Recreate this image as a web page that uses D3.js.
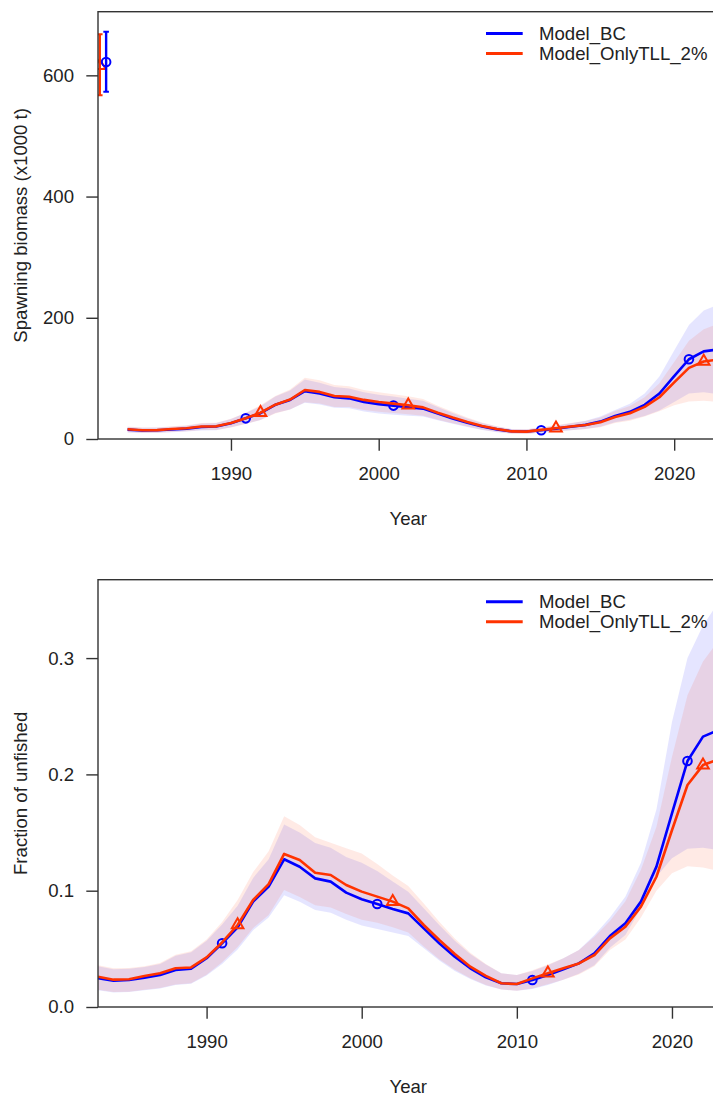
<!DOCTYPE html>
<html>
<head>
<meta charset="utf-8">
<script src="https://cdn.jsdelivr.net/npm/d3@7/dist/d3.min.js"></script>
<style>
  html, body { margin: 0; padding: 0; background: #fff; }
  svg { display: block; }
  text { font-family: "Liberation Sans", Arial, Helvetica, sans-serif; fill: #222; }
</style>
</head>
<body>
<svg id="chart" width="713" height="1097"></svg>
<script>
// ---- Data -------------------------------------------------------------
const years = d3.range(1983, 2024);
const modelNames = ["Model_BC", "Model_OnlyTLL_2%"];

// Spawning biomass (x1000 t)
const ssbBC = [15.4, 14.1, 14.4, 15.7, 17.1, 19.8, 20.5, 26.1, 34.1, 42.6,
  56.4, 64.4, 79.0, 75.0, 68.8, 67.1, 61.1, 57.6, 55.1, 52.4,
  50.1, 42.0, 34.0, 26.9, 20.7, 15.9, 12.7, 12.3, 14.4, 17.1,
  20.2, 23.3, 28.7, 37.9, 44.8, 56.4, 75.1, 103.6, 131.6, 144.6, 148.0];
const ssbBCLo = [10.8, 9.7, 10.0, 11.1, 12.2, 14.1, 14.5, 19.2, 25.2, 31.2,
  42.8, 48.8, 60.0, 57.0, 51.6, 50.7, 45.2, 42.2, 40.2, 38.3,
  37.2, 31.0, 25.0, 19.8, 14.9, 11.3, 8.9, 8.6, 10.3, 12.2,
  14.4, 16.6, 20.4, 27.8, 31.6, 37.8, 47.2, 61.0, 75.0, 77.0, 74.0];
const ssbBCHi = [20.0, 18.5, 18.8, 20.3, 22.0, 25.5, 26.5, 33.0, 43.0, 54.0,
  70.0, 80.0, 98.0, 93.0, 86.0, 83.5, 77.0, 73.0, 70.0, 66.5,
  63.0, 53.0, 43.0, 34.0, 26.5, 20.5, 16.5, 16.0, 18.5, 22.0,
  26.0, 30.0, 37.0, 48.0, 58.0, 75.0, 103.0, 146.0, 188.0, 212.0, 222.0];
const ssbTLL = [16.0, 14.5, 14.6, 16.4, 17.8, 20.5, 20.9, 26.3, 34.1, 43.4,
  56.6, 65.0, 80.9, 77.7, 71.0, 69.8, 64.5, 61.0, 58.4, 55.7,
  52.2, 43.4, 35.4, 28.0, 21.3, 16.4, 12.5, 12.2, 15.1, 17.8,
  20.5, 23.1, 27.5, 36.3, 42.4, 53.1, 68.9, 93.5, 117.4, 127.9, 131.0];
const ssbTLLLo = [11.2, 10.1, 10.2, 11.6, 12.8, 14.7, 14.8, 19.1, 24.7, 31.3,
  42.2, 48.5, 60.8, 58.4, 53.0, 52.6, 48.0, 45.0, 42.8, 40.9,
  38.4, 31.8, 25.8, 20.5, 15.3, 11.8, 8.7, 8.4, 10.7, 12.6,
  14.5, 16.4, 19.5, 26.6, 30.3, 37.2, 45.8, 55.5, 62.0, 63.0, 61.0];
const ssbTLLHi = [20.8, 19.0, 19.1, 21.2, 22.8, 26.3, 27.0, 33.5, 43.5, 55.5,
  71.0, 81.5, 101.0, 97.0, 89.0, 87.0, 81.0, 77.0, 74.0, 70.5,
  66.0, 55.0, 45.0, 35.5, 27.3, 21.0, 16.3, 16.0, 19.5, 23.0,
  26.5, 29.8, 35.5, 46.0, 54.5, 69.0, 92.0, 127.0, 162.0, 181.0, 190.0];

// Unfished (equilibrium) spawning biomass with interval
const equilYear = [1981.55, 1981.12];
const equilSSB = [622, 616];
const equilLo = [573, 567];
const equilHi = [672, 668];

// Fraction of unfished
const fracBC = [0.0247, 0.0226, 0.0232, 0.0252, 0.0275, 0.0318, 0.0330, 0.0419, 0.0548, 0.0685,
  0.0906, 0.1035, 0.1270, 0.1206, 0.1106, 0.1078, 0.0983, 0.0926, 0.0886, 0.0843,
  0.0805, 0.0676, 0.0547, 0.0433, 0.0333, 0.0255, 0.0204, 0.0198, 0.0232, 0.0275,
  0.0324, 0.0375, 0.0461, 0.0610, 0.0720, 0.0906, 0.1207, 0.1665, 0.2115, 0.2325, 0.2380];
const fracBCLo = [0.0145, 0.0125, 0.0130, 0.0145, 0.0160, 0.0190, 0.0200, 0.0270, 0.0370, 0.0495,
  0.0660, 0.0770, 0.0960, 0.0905, 0.0835, 0.0810, 0.0750, 0.0700, 0.0670, 0.0640,
  0.0610, 0.0505, 0.0400, 0.0310, 0.0240, 0.0185, 0.0150, 0.0140, 0.0155, 0.0190,
  0.0235, 0.0285, 0.0360, 0.0510, 0.0620, 0.0850, 0.1120, 0.1280, 0.1360, 0.1370, 0.1350];
const fracBCHi = [0.0350, 0.0325, 0.0328, 0.0345, 0.0370, 0.0440, 0.0470, 0.0570, 0.0710, 0.0870,
  0.1110, 0.1270, 0.1570, 0.1500, 0.1410, 0.1370, 0.1290, 0.1240, 0.1170, 0.1080,
  0.0990, 0.0850, 0.0705, 0.0570, 0.0455, 0.0365, 0.0290, 0.0275, 0.0310, 0.0360,
  0.0420, 0.0490, 0.0620, 0.0770, 0.0950, 0.1240, 0.1700, 0.2450, 0.3000, 0.3280, 0.3480];
const fracTLL = [0.0260, 0.0235, 0.0238, 0.0267, 0.0290, 0.0333, 0.0340, 0.0427, 0.0555, 0.0705,
  0.0920, 0.1057, 0.1316, 0.1264, 0.1155, 0.1135, 0.1049, 0.0992, 0.0949, 0.0906,
  0.0848, 0.0705, 0.0576, 0.0456, 0.0347, 0.0267, 0.0204, 0.0198, 0.0246, 0.0290,
  0.0333, 0.0375, 0.0447, 0.0590, 0.0690, 0.0863, 0.1120, 0.1520, 0.1909, 0.2080, 0.2130];
const fracTLLLo = [0.0148, 0.0128, 0.0132, 0.0148, 0.0163, 0.0193, 0.0205, 0.0278, 0.0385, 0.0515,
  0.0680, 0.0790, 0.1005, 0.0945, 0.0875, 0.0855, 0.0800, 0.0750, 0.0725, 0.0685,
  0.0640, 0.0520, 0.0410, 0.0320, 0.0247, 0.0190, 0.0150, 0.0140, 0.0160, 0.0195,
  0.0235, 0.0280, 0.0350, 0.0490, 0.0580, 0.0770, 0.1000, 0.1150, 0.1210, 0.1200, 0.1170];
const fracTLLHi = [0.0360, 0.0333, 0.0335, 0.0350, 0.0378, 0.0450, 0.0480, 0.0580, 0.0730, 0.0920,
  0.1160, 0.1340, 0.1640, 0.1565, 0.1460, 0.1413, 0.1364, 0.1320, 0.1230, 0.1130,
  0.1040, 0.0890, 0.0734, 0.0590, 0.0467, 0.0370, 0.0290, 0.0275, 0.0315, 0.0365,
  0.0420, 0.0490, 0.0605, 0.0740, 0.0910, 0.1180, 0.1550, 0.2150, 0.2680, 0.2970, 0.3150];

// Years carrying a marker symbol for each model
const markYearsBC = [1991, 2001, 2011, 2021];
const markYearsTLL = [1992, 2002, 2012, 2022];

// Axis ticks
const xTicks = [1990, 2000, 2010, 2020];
const ssbTicks = [0, 200, 400, 600];
const fracTicks = [0, 0.1, 0.2, 0.3];

// ---- Styles -----------------------------------------------------------
const lineCols = ["#0000FF", "#FF3300"];
const shadeCols = ["rgba(0,0,255,0.1)", "rgba(255,51,0,0.1)"];
const axisCol = "#333";
const fontSize = 18.6;
const symR = 4.3;

const svg = d3.select("#chart");

function trianglePath(cx, cy, r) {
  const top = 1.555 * r, half = 1.347 * r, base = 0.778 * r;
  return `M${cx},${cy - top}L${cx + half},${cy + base}L${cx - half},${cy + base}Z`;
}

function drawPanel(opt) {
  const { id, x, y, series, yTicks, yFmt, yLabel, legendY, equil } = opt;
  const [x0, x1] = x.range();
  const [yb, yt] = y.range();
  const g = svg.append("g");

  g.append("clipPath").attr("id", id)
    .append("rect").attr("x", x0).attr("y", yt).attr("width", x1 - x0).attr("height", yb - yt);
  const plot = g.append("g").attr("clip-path", `url(#${id})`);

  // uncertainty bands
  series.forEach((s, i) => {
    const area = d3.area()
      .x((d, k) => x(years[k]))
      .y0((d, k) => y(s.lo[k]))
      .y1((d, k) => y(s.hi[k]));
    plot.append("path").datum(s.val).attr("d", area)
      .attr("fill", shadeCols[i]).attr("stroke", "none");
  });

  // lines and markers
  series.forEach((s, i) => {
    const line = d3.line().x((d, k) => x(years[k])).y(d => y(d));
    plot.append("path").datum(s.val).attr("d", line)
      .attr("fill", "none").attr("stroke", lineCols[i])
      .attr("stroke-width", 2.6).attr("stroke-linejoin", "round");
    s.marks.forEach(yr => {
      const v = s.val[years.indexOf(yr)];
      if (i === 0) {
        plot.append("circle").attr("cx", x(yr)).attr("cy", y(v)).attr("r", symR)
          .attr("fill", "none").attr("stroke", lineCols[i]).attr("stroke-width", 2);
      } else {
        plot.append("path").attr("d", trianglePath(x(yr), y(v), symR))
          .attr("fill", "none").attr("stroke", lineCols[i]).attr("stroke-width", 2);
      }
    });
  });

  // equilibrium estimates with intervals
  if (equil) {
    [1, 0].forEach(i => {
      const ex = x(equil.year[i]);
      plot.append("line").attr("x1", ex).attr("x2", ex)
        .attr("y1", y(equil.lo[i])).attr("y2", y(equil.hi[i]))
        .attr("stroke", lineCols[i]).attr("stroke-width", 2.4);
      [equil.lo[i], equil.hi[i]].forEach(v => {
        plot.append("line").attr("x1", ex - 2.8).attr("x2", ex + 2.8)
          .attr("y1", y(v)).attr("y2", y(v))
          .attr("stroke", lineCols[i]).attr("stroke-width", 2);
      });
      if (i === 0) {
        plot.append("circle").attr("cx", ex).attr("cy", y(equil.val[i])).attr("r", symR)
          .attr("fill", "none").attr("stroke", lineCols[i]).attr("stroke-width", 2);
      } else {
        plot.append("path").attr("d", trianglePath(ex, y(equil.val[i]), symR))
          .attr("fill", "none").attr("stroke", lineCols[i]).attr("stroke-width", 2);
      }
    });
  }

  // box
  g.append("rect").attr("x", x0).attr("y", yt).attr("width", x1 - x0).attr("height", yb - yt)
    .attr("fill", "none").attr("stroke", axisCol).attr("stroke-width", 1.4);

  // axes
  const ax = g.append("g").attr("transform", `translate(0,${yb})`)
    .call(d3.axisBottom(x).tickValues(xTicks).tickFormat(d3.format("d"))
      .tickSize(11.7).tickSizeOuter(0).tickPadding(16.3));
  const ay = g.append("g").attr("transform", `translate(${x0},0)`)
    .call(d3.axisLeft(y).tickValues(yTicks).tickFormat(yFmt)
      .tickSize(11.7).tickSizeOuter(0).tickPadding(12.3));
  [ax, ay].forEach(a => {
    a.select(".domain").remove();
    a.selectAll(".tick line").attr("stroke", axisCol).attr("stroke-width", 1.4);
    a.selectAll(".tick text").attr("fill", "#222")
      .style("font-size", fontSize + "px")
      .style("font-family", '"Liberation Sans", Arial, sans-serif');
  });

  // axis titles
  g.append("text").attr("x", (x0 + x1) / 2).attr("y", yb + 79)
    .attr("text-anchor", "middle").attr("dominant-baseline", "central")
    .style("font-size", fontSize + "px").text("Year");
  g.append("text")
    .attr("transform", `translate(20,${(yb + yt) / 2}) rotate(-90)`)
    .attr("text-anchor", "middle").attr("dominant-baseline", "central")
    .style("font-size", fontSize + "px").text(yLabel);

  // legend
  modelNames.forEach((name, i) => {
    const ly = legendY + i * 20;
    g.append("line").attr("x1", 486).attr("x2", 522.7).attr("y1", ly).attr("y2", ly)
      .attr("stroke", lineCols[i]).attr("stroke-width", 3);
    g.append("text").attr("x", 539).attr("y", ly)
      .attr("dominant-baseline", "central")
      .style("font-size", fontSize + "px").text(name);
  });
}

// Top panel: spawning biomass
drawPanel({
  id: "clipTop",
  x: d3.scaleLinear().domain([1981, 2023]).range([98, 718.5]),
  y: d3.scaleLinear().domain([0, 705]).range([439, 11.7]),
  series: [
    { val: ssbBC, lo: ssbBCLo, hi: ssbBCHi, marks: markYearsBC },
    { val: ssbTLL, lo: ssbTLLLo, hi: ssbTLLHi, marks: markYearsTLL }
  ],
  yTicks: ssbTicks,
  yFmt: d3.format("d"),
  yLabel: "Spawning biomass (x1000 t)",
  legendY: 33.5,
  equil: { year: equilYear, val: equilSSB, lo: equilLo, hi: equilHi }
});

// Bottom panel: fraction of unfished
drawPanel({
  id: "clipBottom",
  x: d3.scaleLinear().domain([1983, 2023]).range([98, 718.5]),
  y: d3.scaleLinear().domain([0, 0.3674]).range([1007, 579.7]),
  series: [
    { val: fracBC, lo: fracBCLo, hi: fracBCHi, marks: markYearsBC },
    { val: fracTLL, lo: fracTLLLo, hi: fracTLLHi, marks: markYearsTLL }
  ],
  yTicks: fracTicks,
  yFmt: d3.format(".1f"),
  yLabel: "Fraction of unfished",
  legendY: 601.7,
  equil: null
});
</script>
</body>
</html>
